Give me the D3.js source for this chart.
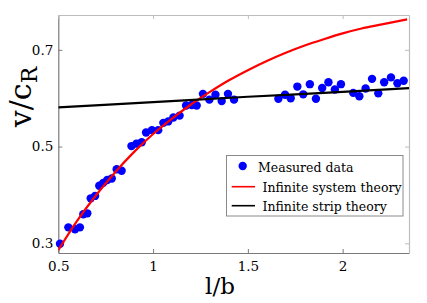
<!DOCTYPE html>
<html>
<head>
<meta charset="utf-8">
<script src="https://cdn.jsdelivr.net/npm/d3@7"></script>
<style>
  html, body { margin: 0; padding: 0; background: #fff; }
  svg { display: block; }
</style>
</head>
<body>
<svg id="chart" width="427" height="303"></svg>
<script>
// Measured data (l/b, v/cR)
const measuredX = [0.509,0.553,0.588,0.614,0.632,0.653,0.671,0.694,0.716,0.737,0.758,0.782,0.808,0.834,
  0.886,0.912,0.940,0.963,0.994,1.027,1.054,1.080,1.107,1.140,1.174,1.204,1.230,1.263,1.297,1.329,1.362,1.395,1.427,
  1.661,1.696,1.726,1.761,1.792,1.827,1.859,1.892,1.925,1.959,1.991,2.056,2.088,2.121,2.155,2.188,2.219,2.255,2.289,2.322];
const measuredY = [0.299,0.333,0.329,0.333,0.360,0.362,0.393,0.398,0.419,0.425,0.431,0.434,0.453,0.450,
  0.501,0.506,0.509,0.529,0.534,0.534,0.549,0.552,0.560,0.564,0.585,0.586,0.585,0.609,0.597,0.607,0.594,0.609,0.597,
  0.599,0.607,0.600,0.624,0.608,0.629,0.599,0.621,0.633,0.618,0.629,0.611,0.604,0.620,0.640,0.610,0.633,0.643,0.631,0.636];

// Infinite system theory curve
const systemX = [0.50,0.60,0.70,0.80,0.90,1.00,1.10,1.20,1.30,1.40,1.50,1.60,1.70,1.80,1.90,2.00,2.10,2.20,2.30,2.34];
const systemY = [0.286,0.347,0.400,0.447,0.489,0.526,0.558,0.587,0.613,0.637,0.658,0.677,0.694,0.709,0.722,0.734,0.744,0.752,0.760,0.763];

// Infinite strip theory curve
const stripX = [0.50,1.00,1.50,2.00,2.35];
const stripY = [0.581,0.592,0.603,0.613,0.621];

const xTicks = [0.5, 1, 1.5, 2];
const yTicks = [0.3, 0.5, 0.7];
const legendLabels = ["Measured data", "Infinite system theory", "Infinite strip theory"];

const FONT = "DejaVu Serif";
const svg = d3.select("#chart").attr("font-family", FONT);
const L = 58.3, R = 409, T = 15, B = 253;
const x = d3.scaleLinear().domain([0.5, 2.35]).range([L, R]);
const y = d3.scaleLinear().domain([0.28, 0.772]).range([B, T]);

// axes box
const fmt = d => String(d);
const gB = svg.append("g").attr("transform", `translate(0,${B})`)
  .call(d3.axisBottom(x).tickValues(xTicks).tickFormat(fmt).tickSizeInner(-4).tickSizeOuter(0));
const gL = svg.append("g").attr("transform", `translate(${L},0)`)
  .call(d3.axisLeft(y).tickValues(yTicks).tickFormat(fmt).tickSizeInner(-4).tickSizeOuter(0));
const gT = svg.append("g").attr("transform", `translate(0,${T})`)
  .call(d3.axisTop(x).tickValues(xTicks).tickFormat("").tickSizeInner(-4).tickSizeOuter(0));
const gR = svg.append("g").attr("transform", `translate(${R},0)`)
  .call(d3.axisRight(y).tickValues(yTicks).tickFormat("").tickSizeInner(-4).tickSizeOuter(0));
[gB, gL, gT, gR].forEach(g => g.attr("font-family", FONT).attr("font-size", 13.5));
gB.selectAll("text").attr("y", 8).attr("dy", "0.71em").attr("fill", "#000");
gL.selectAll("text").attr("x", -5).attr("dy", "0.32em").attr("fill", "#000");
[gB, gL].forEach(g => { g.selectAll("path, line").attr("stroke", "#7a7a7a"); });
[gT, gR].forEach(g => { g.selectAll("path, line").attr("stroke", "#bdbdbd"); });
svg.selectAll(".domain").attr("stroke-width", 1.2);

// clip
svg.append("clipPath").attr("id", "clip").append("rect")
  .attr("x", L).attr("y", T).attr("width", R - L).attr("height", B - T);

const plot = svg.append("g");

// data points
const pts = measuredX.map((d, i) => [d, measuredY[i]]);
plot.selectAll("circle.pt").data(pts).enter().append("circle")
  .attr("class", "pt").attr("cx", d => x(d[0])).attr("cy", d => y(d[1])).attr("r", 4.2)
  .attr("fill", "#0000ff");

const line = d3.line().x(d => x(d[0])).y(d => y(d[1])).curve(d3.curveMonotoneX);
plot.append("path").datum(systemX.map((d, i) => [d, systemY[i]]))
  .attr("d", line).attr("fill", "none").attr("stroke", "#ff0000").attr("stroke-width", 2.2)
  .attr("clip-path", "url(#clip)");
plot.append("path").datum(stripX.map((d, i) => [d, stripY[i]]))
  .attr("d", line).attr("fill", "none").attr("stroke", "#000").attr("stroke-width", 2.2)
  .attr("clip-path", "url(#clip)");

// axis labels
svg.append("text").attr("x", 220).attr("y", 294).attr("text-anchor", "middle")
  .attr("font-family", FONT).attr("font-size", 23).text("l/b");
const yl = svg.append("text").attr("transform", "translate(31,97) rotate(-90)")
  .attr("text-anchor", "middle").attr("font-family", FONT).attr("font-size", 30);
yl.append("tspan").text("v/c");
yl.append("tspan").attr("font-size", 22).attr("dy", 6).text("R");

// legend
const lg = svg.append("g").attr("font-family", FONT);
lg.append("rect").attr("x", 226.5).attr("y", 155.5).attr("width", 176.5).attr("height", 60.5)
  .attr("fill", "#fff").attr("stroke", "#8a8a8a").attr("stroke-width", 1);
lg.append("circle").attr("cx", 242.7).attr("cy", 166).attr("r", 4.2).attr("fill", "#0000ff");
lg.append("line").attr("x1", 231.7).attr("x2", 255).attr("y1", 186.7).attr("y2", 186.7)
  .attr("stroke", "#ff0000").attr("stroke-width", 1.6);
lg.append("line").attr("x1", 231.7).attr("x2", 255).attr("y1", 205.7).attr("y2", 205.7)
  .attr("stroke", "#000").attr("stroke-width", 1.6);
lg.append("text").attr("x", 258).attr("y", 171.5).attr("font-size", 12.5).text(legendLabels[0]);
lg.append("text").attr("x", 262.5).attr("y", 192).attr("font-size", 12.5).text(legendLabels[1]);
lg.append("text").attr("x", 262.5).attr("y", 211).attr("font-size", 12.5).text(legendLabels[2]);
</script>
</body>
</html>
